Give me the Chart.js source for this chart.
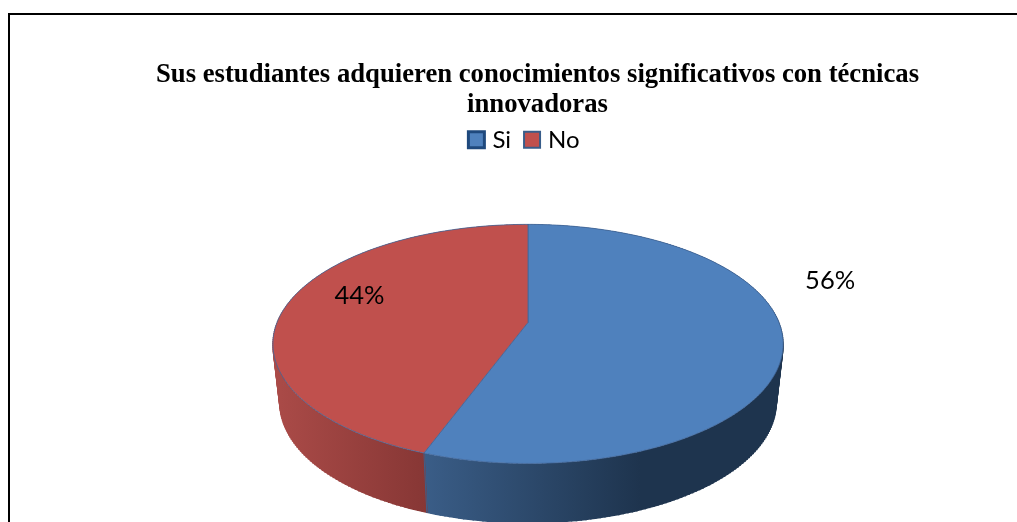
<!DOCTYPE html>
<html>
<head>
<meta charset="utf-8">
<style>
  html, body { margin: 0; background: #fff; overflow: hidden; }
  #frame { position: absolute; left: 8px; top: 13px; width: 1100px; height: 600px; border: 2px solid #000; }
  #pie { position: absolute; left: 0; top: 0; }
</style>
<script src="https://cdn.jsdelivr.net/npm/chart.js@4"></script>
</head>
<body>
<div id="frame"></div>
<canvas id="pie" width="1017" height="522"></canvas>
<script>
const titleLines = ['Sus estudiantes adquieren conocimientos significativos con técnicas', 'innovadoras'];
const categories = ['Si', 'No'];
const shares = [55.6, 44.4];

const faceColors = ['#4f81bd', '#c0504d'];
const legendBorders = ['#1f497d', '#385d8a'];
const legendWidths = [3, 2];
// side wall shading, left to right
const wallShades = [
  { from: 425, to: 640, stops: ['#3a5d87', '#1e344e'] },
  { from: 273, to: 425, stops: ['#ab4b48', '#873735'] }
];
// where each percent label sits, relative to the rim at the slice middle
const labelOffsets = [[47, -63], [71, -7]];

// fake 3d: perspective circle seen from above
const tilt = 0.18;
const widthFactor = 1.5675;
const heightFactor = 0.7225;
const wallDepth = 60;
const wallShrink = 0.972;

function facePoint(el, a) {
  const w = 1 - tilt * Math.sin(a);
  return [
    el.x + el.outerRadius * widthFactor * Math.cos(a) / w,
    el.y + el.outerRadius * heightFactor * Math.sin(a) / w
  ];
}

function wallPoint(el, a) {
  const p = facePoint(el, a);
  return [el.x + (p[0] - el.x) * wallShrink, p[1] + wallDepth];
}

function rimAngles(el) {
  const out = [];
  const n = Math.ceil((el.endAngle - el.startAngle) * 60);
  for (let i = 0; i <= n; i++) {
    out.push(el.startAngle + (el.endAngle - el.startAngle) * i / n);
  }
  return out;
}

const tiltedPie = {
  id: 'tiltedPie',
  afterLayout(chart) {
    // title and legend are not centred on the same x in the original
    chart.titleBlock.left += 9.5;
    chart.titleBlock.right += 9.5;
    chart.legend.left -= 2;
    chart.legend.right -= 2;
  },
  beforeDatasetsDraw(chart) {
    const ctx = chart.ctx;
    const arcs = chart.getDatasetMeta(0).data;
    ctx.save();

    arcs.forEach((el, i) => {
      const angles = rimAngles(el);
      const shade = wallShades[i];
      const grad = ctx.createLinearGradient(shade.from, 0, shade.to, 0);
      grad.addColorStop(0, shade.stops[0]);
      grad.addColorStop(1, shade.stops[1]);
      ctx.beginPath();
      angles.forEach((a, k) => {
        const p = facePoint(el, a);
        if (k === 0) ctx.moveTo(p[0], p[1]); else ctx.lineTo(p[0], p[1]);
      });
      angles.slice().reverse().forEach(a => {
        const p = wallPoint(el, a);
        ctx.lineTo(p[0], p[1]);
      });
      ctx.closePath();
      ctx.fillStyle = grad;
      ctx.fill();
      // the band alone leaves a notch at the far left and right, sweep it shut
      ctx.strokeStyle = grad;
      ctx.lineWidth = 1.5;
      angles.forEach(a => {
        const p = facePoint(el, a);
        const q = wallPoint(el, a);
        ctx.beginPath();
        ctx.moveTo(p[0], p[1]);
        ctx.lineTo(q[0], q[1]);
        ctx.stroke();
      });
    });

    // seam between the two walls at the front
    const seam = arcs[0].endAngle;
    const s0 = facePoint(arcs[0], seam);
    const s1 = wallPoint(arcs[0], seam);
    ctx.beginPath();
    ctx.moveTo(s0[0], s0[1]);
    ctx.lineTo(s1[0], s1[1]);
    ctx.strokeStyle = '#3f5f88';
    ctx.lineWidth = 1;
    ctx.stroke();

    arcs.forEach(el => {
      ctx.beginPath();
      ctx.moveTo(el.x, el.y);
      rimAngles(el).forEach(a => {
        const p = facePoint(el, a);
        ctx.lineTo(p[0], p[1]);
      });
      ctx.closePath();
      ctx.fillStyle = el.options.backgroundColor;
      ctx.fill();
      ctx.strokeStyle = el.options.borderColor;
      ctx.lineWidth = el.options.borderWidth;
      ctx.stroke();
    });

    ctx.fillStyle = '#000';
    ctx.font = '25.5px Lato';
    ctx.textAlign = 'center';
    ctx.textBaseline = 'middle';
    arcs.forEach((el, i) => {
      const p = facePoint(el, (el.startAngle + el.endAngle) / 2);
      ctx.fillText(Math.round(shares[i]) + '%', p[0] + labelOffsets[i][0], p[1] + labelOffsets[i][1]);
    });

    ctx.restore();
    return false;
  }
};

new Chart(document.getElementById('pie'), {
  type: 'pie',
  data: {
    labels: categories,
    datasets: [{
      data: shares,
      backgroundColor: faceColors,
      borderColor: 'rgba(65, 103, 154, 0.8)',
      borderWidth: 1
    }]
  },
  options: {
    responsive: false,
    animation: false,
    layout: { padding: { left: 39, top: 0, bottom: 39 } },
    plugins: {
      tooltip: { enabled: false },
      title: {
        display: true,
        text: titleLines,
        color: '#000',
        font: { family: 'Liberation Serif', size: 26.7, weight: 'bold', lineHeight: 1.12 },
        padding: { top: 60, bottom: -9 }
      },
      legend: {
        position: 'top',
        labels: {
          color: '#000',
          font: { family: 'Lato', size: 24 },
          usePointStyle: true,
          boxWidth: 8,
          boxHeight: 16,
          padding: 17,
          generateLabels: chart => categories.map((text, i) => ({
            text,
            index: i,
            pointStyle: 'rect',
            fillStyle: faceColors[i],
            strokeStyle: legendBorders[i],
            lineWidth: legendWidths[i],
            hidden: false
          }))
        }
      }
    }
  },
  plugins: [tiltedPie]
});
</script>
</body>
</html>
